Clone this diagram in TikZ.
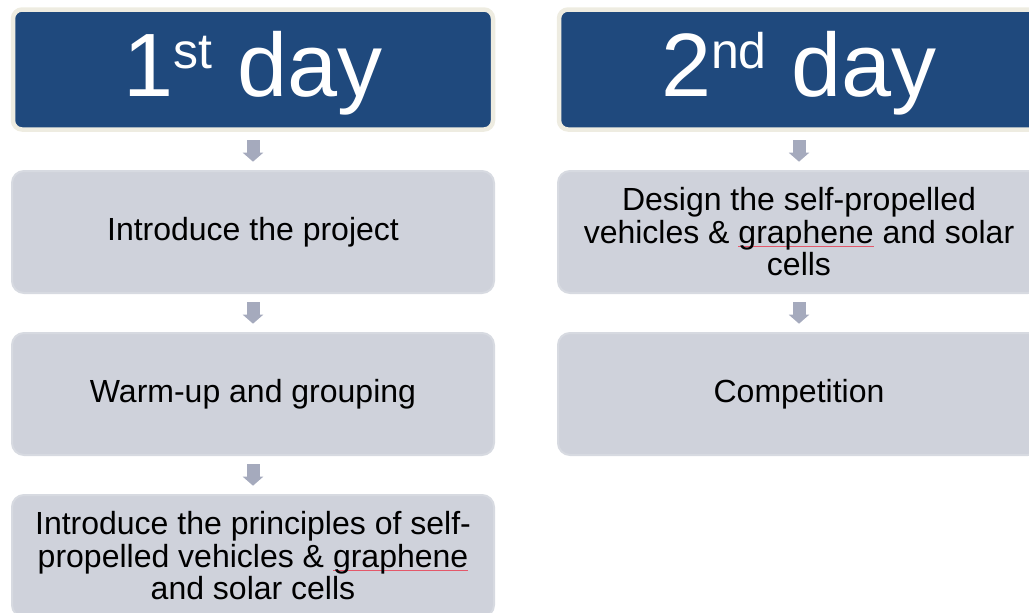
\documentclass[tikz,border=0pt]{standalone}
\usepackage{fontspec}
\setmainfont{Liberation Sans}
\usetikzlibrary{arrows.meta}

\definecolor{dayblue}{HTML}{1F497D}
\definecolor{dayrim}{HTML}{EEECE1}
\definecolor{stepfill}{HTML}{CFD2DB}
\definecolor{steprim}{HTML}{D7DAE1}
\definecolor{flowgray}{HTML}{A5AABD}
\definecolor{spellred}{HTML}{E4586A}

% thin red mark under a word
\newsavebox\squigbox
\newcommand\spellmark[1]{\sbox\squigbox{#1}\rlap{\color{spellred}\vrule width \wd\squigbox height -2.2pt depth 3.4pt}\usebox\squigbox}
\newcommand\daysup[1]{\raisebox{28pt}{\fontsize{50}{50}\selectfont #1}}

\begin{document}
\begin{tikzpicture}[x=1pt,y=-1pt,
  dayhead/.style={draw=dayrim, fill=dayblue, line width=4.5pt, rounded corners=9pt,
    minimum width=480pt, minimum height=120pt, text=white, inner sep=0pt,
    font=\fontsize{90}{100}\selectfont, text height=64pt, text depth=9.6pt},
  stepbox/.style={draw=steprim, fill=stepfill, line width=2pt, rounded corners=12pt,
    minimum width=482pt, minimum height=122pt, align=center, inner sep=0pt,
    font=\fontsize{32}{32.5}\selectfont},
  flow/.style={draw=flowgray, line width=13pt,
    -{Triangle[width=20pt,length=9pt]}, shorten <=8.3pt, shorten >=8.3pt}]

\useasboundingbox (0,0) rectangle (1029,613);

% first day
\node[dayhead] (d1) at (253,69.5) {1\daysup{st} day};
\node[stepbox] (a1) at (253,232) {Introduce the project};
\node[stepbox] (a2) at (253,394) {Warm-up and grouping};
\node[stepbox] (a3) at (253,556) {Introduce the principles of self-\\propelled vehicles \& \spellmark{graphene}\\and solar cells};

% second day
\node[dayhead] (d2) at (799,69.5) {2\daysup{nd} day};
\node[stepbox] (b1) at (799,232) {Design the self-propelled\\vehicles \& \spellmark{graphene} and solar\\cells};
\node[stepbox] (b2) at (799,394) {Competition};

% block arrows
\draw[flow] (d1.south) -- (a1.north);
\draw[flow] (a1.south) -- (a2.north);
\draw[flow] (a2.south) -- (a3.north);
\draw[flow] (d2.south) -- (b1.north);
\draw[flow] (b1.south) -- (b2.north);
\end{tikzpicture}
\end{document}
